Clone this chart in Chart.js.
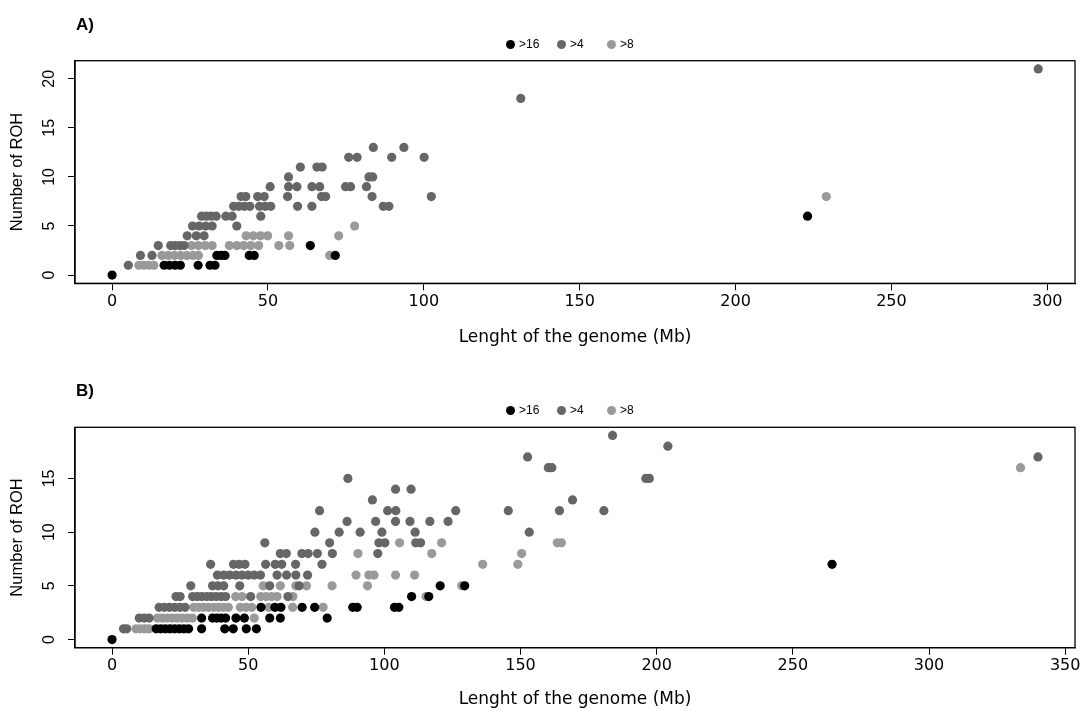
<!DOCTYPE html>
<html><head><meta charset="utf-8">
<script src="https://cdn.jsdelivr.net/npm/chart.js@4.4.0/dist/chart.umd.min.js"></script>
<style>
html,body{margin:0;padding:0;background:#fff;}
#wrap{position:relative;width:1086px;height:711px;overflow:hidden;background:#fff;font-family:"Liberation Sans",Arial,sans-serif;}
.pane{position:absolute;left:0;width:1086px;}
.lbl{position:absolute;font-weight:bold;font-size:17px;line-height:1;color:#000;}
.leg{position:absolute;font-size:12px;line-height:12px;color:#000;white-space:nowrap;}
.dot{position:absolute;width:9px;height:9px;border-radius:50%;}
</style></head><body>
<div id="wrap">
 <div class="pane" style="top:0;height:360px"><canvas id="cA" width="1086" height="360"></canvas></div>
 <div class="pane" style="top:360px;height:351px"><canvas id="cB" width="1086" height="351"></canvas></div>
 <div class="lbl" style="left:76px;top:16px">A)</div>
 <div class="lbl" style="left:76px;top:382px">B)</div>
 <div id="legA"></div><div id="legB"></div>
</div>
<script>
// ---- series meta ----
const seriesNames = [">16", ">4", ">8"];
const seriesColors = ["#000000", "#666666", "#9a9a9a"];

// ---- axis ticks ----
const xTicksA = [0, 50, 100, 150, 200, 250, 300];
const yTicksA = [0, 5, 10, 15, 20];
const xTicksB = [0, 50, 100, 150, 200, 250, 300, 350];
const yTicksB = [0, 5, 10, 15];
const xTitle = "Lenght of the genome (Mb)";
const yTitle = "Number of ROH";

// ---- Panel A data: [length Mb, number of ROH] ----
const A_gt16 = [[0,0],[16.7,1],[18.4,1],[20.2,1],[21.9,1],[27.6,1],[31.4,1],[33,1],
 [33.6,2],[35,2],[36.2,2],[44,2],[45.6,2],[71.6,2],[63.6,3],[223.1,6]];
const A_gt4 = [[5.2,1],[9.1,2],[12.8,2],
 [14.8,3],[18.8,3],[20.2,3],[21.7,3],[23.1,3],
 [24.1,4],[27,4],[29.5,4],
 [25.8,5],[27.9,5],[30,5],[32.1,5],[40,5],
 [28.7,6],[30.3,6],[31.8,6],[33.4,6],[36.5,6],[38.5,6],[47.7,6],
 [39,7],[40.7,7],[42.5,7],[44.2,7],[47.3,7],[49.1,7],[50.9,7],[59.5,7],[64.1,7],[87,7],[88.8,7],
 [41.4,8],[42.9,8],[46.7,8],[48.8,8],[56.3,8],[67.2,8],[68.5,8],[83.4,8],[102.4,8],
 [50.7,9],[56.6,9],[59.3,9],[64.1,9],[66.6,9],[74.9,9],[76.5,9],[81.6,9],
 [56.6,10],[82.4,10],[83.6,10],
 [60.4,11],[65.7,11],[67.4,11],
 [75.9,12],[78.6,12],[89.7,12],[100.1,12],
 [83.8,13],[93.6,13],[131.1,18],[297.1,21]];
const A_gt8 = [[8.6,1],[10.2,1],[11.8,1],[13.4,1],
 [16,2],[18,2],[20,2],[22,2],[24,2],[26,2],[27.7,2],[69.8,2],
 [25.5,3],[27.7,3],[29.9,3],[32.1,3],[37.6,3],[40,3],[42.2,3],[44.5,3],[47,3],[53.5,3],[57,3],
 [43,4],[45.3,4],[47.6,4],[49.9,4],[56.6,4],[72.7,4],
 [77.8,5],[229.1,8]];

// ---- Panel B data ----
const B_gt16 = [[0,0],[16.2,1],[17.9,1],[19.6,1],[21.3,1],[23,1],[24.7,1],[26.4,1],[28.1,1],[32.9,1],[41.4,1],[44.5,1],[49.3,1],[53,1],
 [32.9,2],[36.9,2],[38.5,2],[40.1,2],[41.7,2],[45.5,2],[48.6,2],[57.9,2],[61.8,2],[79,2],
 [54.7,3],[59.8,3],[62,3],[69.8,3],[74.4,3],[88.4,3],[90,3],[103.7,3],[105.3,3],
 [110,4],[116.3,4],[120.5,5],[129.5,5],[264.4,7]];
const B_gt4 = [[4.2,1],[5.4,1],
 [10,2],[11.8,2],[13.6,2],
 [17.3,3],[19.2,3],[21.1,3],[23,3],[24.9,3],[26.8,3],
 [23.5,4],[25,4],[29.6,4],[31.3,4],[33,4],[34.8,4],[36.5,4],[38.2,4],[40,4],[41.7,4],[50.9,4],[64.6,4],
 [28.9,5],[36.9,5],[38.9,5],[41,5],[46.9,5],[57.9,5],[68.7,5],
 [38.7,6],[41,6],[43.2,6],[45.5,6],[47.7,6],[50,6],[52.2,6],[54.5,6],[60.6,6],[64.1,6],[67.5,6],[71.8,6],
 [36.2,7],[44.6,7],[46.7,7],[48.8,7],[56.4,7],[59.9,7],[62.3,7],[67.4,7],[77.1,7],
 [61.8,8],[64,8],[69.7,8],[72,8],[75.4,8],[80.9,8],[97.6,8],
 [56.1,9],[79.9,9],[98,9],[100.2,9],[111.5,9],[113.3,9],
 [74.5,10],[83.4,10],[91.1,10],[99.1,10],[111.3,10],[153.2,10],
 [86.3,11],[96.8,11],[104.1,11],[109.4,11],[116.7,11],[123.4,11],
 [76.2,12],[101.2,12],[104.2,12],[126.2,12],[145.5,12],[164.3,12],[180.6,12],
 [95.6,13],[169.1,13],[104.1,14],[109.8,14],
 [86.6,15],[196,15],[197.3,15],[160.2,16],[161.5,16],
 [152.6,17],[340,17],[204.1,18],[183.8,19]];
const B_gt8 = [[8.8,1],[10.4,1],[12,1],[13.6,1],
 [16.7,2],[18.5,2],[20.3,2],[22.1,2],[23.9,2],[25.7,2],[27.6,2],[29.5,2],[52.2,2],
 [30,3],[31.8,3],[33.6,3],[35.4,3],[37.3,3],[39.1,3],[40.9,3],[42.7,3],[47.1,3],[49.2,3],[51.3,3],[57.5,3],[66.3,3],[77.5,3],
 [45.4,4],[47.7,4],[54.6,4],[56.6,4],[58.6,4],[60.6,4],[66.4,4],[115.3,4],
 [55.5,5],[61.8,5],[67.5,5],[71.4,5],[80.8,5],[93.8,5],[128.4,5],
 [89.6,6],[94.3,6],[96.2,6],[104.1,6],[111.1,6],
 [136.1,7],[149,7],[90.3,8],[117.4,8],[150.4,8],
 [105.6,9],[121,9],[163.5,9],[165,9],[333.6,16]];

const toXY = arr => arr.map(p => ({x: p[0], y: p[1]}));

const boxPlugin = {id: 'box', afterDraw(chart) {
  const {ctx, chartArea: a} = chart;
  ctx.save(); ctx.strokeStyle = '#000'; ctx.lineWidth = 1.3;
  ctx.strokeRect(a.left, a.top, a.right - a.left, a.bottom - a.top);
  ctx.restore();
}};

function makeChart(id, series, xr, yr, xTicks, yTicks, plotTop, xAxisH, titlePadB) {
  const ds = series.map((s, i) => ({
    label: seriesNames[i], data: toXY(s),
    backgroundColor: seriesColors[i], borderWidth: 0,
    pointRadius: 4.6, pointHoverRadius: 4.6
  }));
  return new Chart(document.getElementById(id), {
    type: 'scatter',
    data: {datasets: ds},
    plugins: [boxPlugin],
    options: {
      responsive: false, animation: false, devicePixelRatio: 1, events: [],
      layout: {padding: {left: 0, right: 11, top: plotTop, bottom: 0}},
      plugins: {legend: {display: false}, tooltip: {enabled: false}},
      scales: {
        x: {
          type: 'linear', min: xr[0], max: xr[1],
          afterBuildTicks: s => { s.ticks = xTicks.map(v => ({value: v})); },
          afterFit: s => { s.height = xAxisH; },
          ticks: {font: {family: 'DejaVu Sans', size: 16}, color: '#000', padding: 2,
                  maxRotation: 0, autoSkip: false, callback: v => String(v)},
          grid: {drawOnChartArea: false, drawTicks: true, tickLength: 7, color: '#000', lineWidth: 1},
          border: {display: true, color: '#000', width: 1.3},
          title: {display: true, text: xTitle, color: '#000',
                  font: {family: 'DejaVu Sans', size: 17}, padding: {top: 0, bottom: titlePadB}}
        },
        y: {
          type: 'linear', min: yr[0], max: yr[1],
          afterBuildTicks: s => { s.ticks = yTicks.map(v => ({value: v})); },
          afterFit: s => { s.width = 75; },
          ticks: {font: {family: 'Liberation Sans', size: 16}, color: '#000', padding: 10,
                  minRotation: 90, maxRotation: 90, crossAlign: 'center', autoSkip: false,
                  callback: v => String(v)},
          grid: {drawOnChartArea: false, drawTicks: true, tickLength: 7, color: '#000', lineWidth: 1},
          border: {display: true, color: '#000', width: 1.3},
          title: {display: true, text: yTitle, color: '#000',
                  font: {family: 'Liberation Sans', size: 16.5}, padding: {top: 8, bottom: 0}}
        }
      }
    }
  });
}

makeChart('cA', [A_gt16, A_gt4, A_gt8], [-11.9, 308.9], [-0.84, 21.84], xTicksA, yTicksA, 60.7, 76.7, 12);
makeChart('cB', [B_gt16, B_gt4, B_gt8], [-13.6, 353.6], [-0.76, 19.76], xTicksB, yTicksB, 67.3, 63.3, 1);

// ---- legends ----
function makeLegend(id, cy) {
  const el = document.getElementById(id);
  const dotX = [510, 561, 611];
  seriesNames.forEach((n, i) => {
    const d = document.createElement('div');
    d.className = 'dot';
    d.style.left = (dotX[i] - 4.5) + 'px'; d.style.top = (cy - 4.5) + 'px';
    d.style.background = seriesColors[i];
    el.appendChild(d);
    const t = document.createElement('div');
    t.className = 'leg'; t.textContent = n;
    t.style.left = (dotX[i] + 9) + 'px'; t.style.top = (cy - 6) + 'px';
    el.appendChild(t);
  });
}
makeLegend('legA', 44);
makeLegend('legB', 410);
</script>
</body></html>
